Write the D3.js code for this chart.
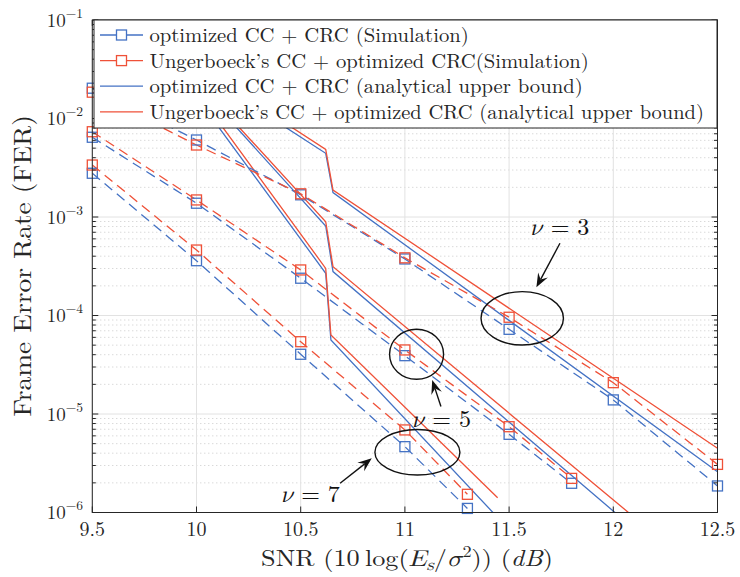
<!DOCTYPE html>
<html><head><meta charset="utf-8">
<script src="https://cdn.jsdelivr.net/npm/d3@7"></script>
<style>body{margin:0;background:#fff}</style>
</head><body><svg id="c" width="740" height="577" xmlns="http://www.w3.org/2000/svg"></svg>
<script>
// ---------- data ----------
const xTicks = [9.5, 10, 10.5, 11, 11.5, 12, 12.5];
const xTickLabels = ["9.5", "10", "10.5", "11", "11.5", "12", "12.5"];
const yTicks = [1e-6, 1e-5, 1e-4, 1e-3, 1e-2, 1e-1];
const yTickExps = ["\u22126", "\u22125", "\u22124", "\u22123", "\u22122", "\u22121"];

// simulations (dashed, square markers)
const snrNu3 = [9.5, 10, 10.5, 11, 11.5, 12, 12.5];
const simOptNu3 = [2.03e-2, 6.05e-3, 1.68e-3, 3.75e-4, 7.24e-5, 1.39e-5, 1.86e-6];
const simUngNu3 = [1.85e-2, 5.38e-3, 1.72e-3, 3.85e-4, 9.6e-5, 2.08e-5, 3.08e-6];

const snrNu5 = [9.5, 10, 10.5, 11, 11.5, 11.8];
const simOptNu5 = [6.45e-3, 1.38e-3, 2.39e-4, 3.91e-5, 6.22e-6, 1.98e-6];
const simUngNu5 = [7.34e-3, 1.49e-3, 2.9e-4, 4.47e-5, 7.43e-6, 2.22e-6];

const snrNu7 = [9.5, 10, 10.5, 11, 11.3];
const simOptNu7 = [2.78e-3, 3.6e-4, 4.04e-5, 4.66e-6, 1.10e-6];
const simUngNu7 = [3.37e-3, 4.62e-4, 5.42e-5, 6.89e-6, 1.53e-6];

// analytical upper bounds (solid)
const snrBoundNu3 = [9.5, 10.62, 10.655, 12.5];
const boundOptNu3 = [0.152, 4.43e-3, 1.77e-3, 2.59e-6];
const boundUngNu3 = [0.169, 4.86e-3, 1.88e-3, 4.49e-6];

const snrBoundNu5 = [9.5, 10.62, 10.655, 12.5];
const boundOptNu5 = [0.333, 8.11e-4, 2.79e-4, 1.29e-7];
const boundUngNu5 = [0.343, 8.96e-4, 3.13e-4, 1.77e-7];

const snrBoundNu7 = [9.5, 10.62, 10.645, 11.445];
const boundOptNu7 = [0.46, 2.68e-4, 5.64e-5, 8.9e-7];
const boundUngNu7 = [0.53, 3.01e-4, 6.34e-5, 1.41e-6];

const legendLabels = [
  "optimized CC + CRC (Simulation)",
  "Ungerboeck\u2019s CC + optimized CRC(Simulation)",
  "optimized CC + CRC (analytical upper bound)",
  "Ungerboeck\u2019s CC + optimized CRC (analytical upper bound)"
];

// annotations (data coordinates)
const nuLabels = ["3", "5", "7"];
const ellipseCenters = [[11.563, 9.37e-5], [11.056, 4.04e-5], [11.06, 4.09e-6]];
const arrowTails = [[11.744, 5.41e-4], [11.173, 1.19e-5], [10.689, 1.98e-6]];
const arrowHeads = [[11.631, 1.93e-4], [11.131, 2.21e-5], [10.841, 3.55e-6]];
const labelPos = [[11.744, 6.56e-4], [11.176, 7.43e-6], [10.547, 1.29e-6]];

// ---------- styles ----------
const BLUE = "#4472c4", RED = "#ef5138";
const FONT = "'Latin Modern Roman', 'Liberation Serif', serif";
const MATH = "'Latin Modern Math', 'Latin Modern Roman', serif";
const ellipseR = [[41.2, 26.7], [27, 25], [42.5, 22.8]];

const svg = d3.select("#c");
const L = 92.3, R = 717.5, T = 20, B = 512.5;
const x = d3.scaleLinear().domain([9.5, 12.5]).range([L, R]);
const y = d3.scaleLog().domain([1e-6, 1e-1]).range([B, T]);

svg.append("rect").attr("width", 740).attr("height", 577).attr("fill", "#fff");
svg.append("defs").append("clipPath").attr("id", "clip")
  .append("rect").attr("x", L).attr("y", T).attr("width", R - L).attr("height", B - T);

// ---------- grid ----------
const grid = svg.append("g");
const minorVals = [];
for (let e = -6; e <= -2; e++) for (let k = 2; k <= 9; k++) minorVals.push(k * Math.pow(10, e));
grid.selectAll(".mg").data(minorVals).enter().append("line")
  .attr("x1", L).attr("x2", R).attr("y1", d => y(d)).attr("y2", d => y(d))
  .attr("stroke", "#c4c4c4").attr("stroke-width", 0.9).attr("stroke-dasharray", "1,3");
grid.selectAll(".gy").data(yTicks).enter().append("line")
  .attr("x1", L).attr("x2", R).attr("y1", d => y(d)).attr("y2", d => y(d))
  .attr("stroke", "#e2e2e2").attr("stroke-width", 1);
grid.selectAll(".gx").data(xTicks).enter().append("line")
  .attr("y1", T).attr("y2", B).attr("x1", d => x(d)).attr("x2", d => x(d))
  .attr("stroke", "#e2e2e2").attr("stroke-width", 1);

// ---------- series ----------
const sims = [
  [snrNu3, simOptNu3, BLUE], [snrNu3, simUngNu3, RED],
  [snrNu5, simOptNu5, BLUE], [snrNu5, simUngNu5, RED],
  [snrNu7, simOptNu7, BLUE], [snrNu7, simUngNu7, RED]
];
const bounds = [
  [snrBoundNu3, boundOptNu3, BLUE], [snrBoundNu3, boundUngNu3, RED],
  [snrBoundNu5, boundOptNu5, BLUE], [snrBoundNu5, boundUngNu5, RED],
  [snrBoundNu7, boundOptNu7, BLUE], [snrBoundNu7, boundUngNu7, RED]
];
const line = d3.line().x(d => x(d[0])).y(d => y(d[1]));
const lines = svg.append("g").attr("clip-path", "url(#clip)");
bounds.forEach(([s, v, c]) => {
  lines.append("path").datum(s.map((d, i) => [d, v[i]])).attr("d", line)
    .attr("fill", "none").attr("stroke", c).attr("stroke-width", 1.3);
});
sims.forEach(([s, v, c]) => {
  lines.append("path").datum(s.map((d, i) => [d, v[i]])).attr("d", line)
    .attr("fill", "none").attr("stroke", c).attr("stroke-width", 1.3)
    .attr("stroke-dasharray", "10,6");
});
const marks = svg.append("g");
sims.forEach(([s, v, c]) => {
  marks.selectAll(null).data(s.map((d, i) => [d, v[i]])).enter().append("rect")
    .attr("x", d => x(d[0]) - 5).attr("y", d => y(d[1]) - 5)
    .attr("width", 10).attr("height", 10)
    .attr("fill", "none").attr("stroke", c).attr("stroke-width", 1.3);
});

// ---------- annotations ----------
const ann = svg.append("g");
ellipseCenters.forEach((cpt, i) => {
  ann.append("ellipse").attr("cx", x(cpt[0])).attr("cy", y(cpt[1]))
    .attr("rx", ellipseR[i][0]).attr("ry", ellipseR[i][1])
    .attr("fill", "none").attr("stroke", "#111").attr("stroke-width", 1.4);
  const x1 = x(arrowTails[i][0]), y1 = y(arrowTails[i][1]);
  const x2 = x(arrowHeads[i][0]), y2 = y(arrowHeads[i][1]);
  const ang = Math.atan2(y2 - y1, x2 - x1);
  const len = 14, hw = 5.5, notch = 9;
  const bx = x2 - len * Math.cos(ang), by = y2 - len * Math.sin(ang);
  const nx = x2 - notch * Math.cos(ang), ny = y2 - notch * Math.sin(ang);
  ann.append("line").attr("x1", x1).attr("y1", y1).attr("x2", nx).attr("y2", ny)
    .attr("stroke", "#111").attr("stroke-width", 1.4);
  const pts = [[x2, y2],
    [bx + hw * Math.sin(ang), by - hw * Math.cos(ang)],
    [nx, ny],
    [bx - hw * Math.sin(ang), by + hw * Math.cos(ang)]];
  ann.append("polygon").attr("points", pts.map(p => p.join(",")).join(" ")).attr("fill", "#111");
  const t = ann.append("text").attr("x", x(labelPos[i][0])).attr("y", y(labelPos[i][1]))
    .attr("text-anchor", "middle").attr("font-family", FONT).attr("font-size", 24).attr("fill", "#111");
  t.append("tspan").attr("font-family", MATH).attr("font-style", "italic").text("\u03bd");
  t.append("tspan").text(" = " + nuLabels[i]);
});

// ---------- axes ----------
const ax = svg.append("g");
ax.append("rect").attr("x", L).attr("y", T).attr("width", R - L).attr("height", B - T)
  .attr("fill", "none").attr("stroke", "#262626").attr("stroke-width", 1);
const tk = (x1, y1, x2, y2) => ax.append("line").attr("x1", x1).attr("y1", y1).attr("x2", x2).attr("y2", y2)
  .attr("stroke", "#262626").attr("stroke-width", 1);
xTicks.forEach(v => { tk(x(v), B, x(v), B - 6); tk(x(v), T, x(v), T + 6); });
yTicks.forEach(v => { tk(L, y(v), L + 6, y(v)); tk(R, y(v), R - 6, y(v)); });
minorVals.forEach(v => { tk(L, y(v), L + 3.5, y(v)); tk(R, y(v), R - 3.5, y(v)); });

const xl = svg.append("g").attr("font-family", FONT).attr("font-size", 20).attr("fill", "#262626");
xTicks.forEach((v, i) => {
  xl.append("text").attr("x", x(v)).attr("y", B + 23).attr("text-anchor", "middle").text(xTickLabels[i]);
});
yTicks.forEach((v, i) => {
  const t = xl.append("text").attr("x", 83).attr("y", y(v) + 6.5).attr("text-anchor", "end").attr("font-size", 19);
  t.append("tspan").text("10");
  t.append("tspan").attr("dy", -9).attr("font-size", 13.5).text(yTickExps[i]);
});

function fitWidth(sel, w, cx) {
  const bw = sel.node().getBBox().width;
  const s = w / bw;
  sel.attr("transform", `translate(${cx},0) scale(${s},1) translate(${-cx},0)`);
}

// x title
const xt = svg.append("text").attr("x", 407).attr("y", 566).attr("text-anchor", "middle")
  .attr("font-family", FONT).attr("font-size", 23).attr("fill", "#262626");
xt.append("tspan").text("SNR (10\u2009log(");
xt.append("tspan").attr("font-family", MATH).attr("font-style", "italic").text("E");
xt.append("tspan").attr("font-family", MATH).attr("font-style", "italic").attr("font-size", 16).attr("dy", 4).text("s");
xt.append("tspan").attr("dy", -4).text("/");
xt.append("tspan").attr("font-family", MATH).attr("font-style", "italic").text("\u03c3");
xt.append("tspan").attr("font-size", 16).attr("dy", -9).text("2");
xt.append("tspan").attr("dy", 9).text(")) (");
xt.append("tspan").attr("font-style", "italic").text("dB");
xt.append("tspan").text(")");
fitWidth(xt, 292, 407);

// y title
const ytg = svg.append("g").attr("transform", "translate(31,266) rotate(-90)");
const yt = ytg.append("text").attr("x", 0).attr("y", 0).attr("text-anchor", "middle")
  .attr("font-family", FONT).attr("font-size", 25).attr("fill", "#262626").text("Frame Error Rate (FER)");
fitWidth(yt, 302, 0);

// ---------- legend ----------
const lg = svg.append("g");
lg.append("rect").attr("x", 94).attr("y", 20).attr("width", 623).attr("height", 108)
  .attr("fill", "#fff").attr("stroke", "#262626").attr("stroke-width", 1);
const legendColors = [BLUE, RED, BLUE, RED];
const legendMarker = [true, true, false, false];
const legendWidths = [319.5, 439.4, 433.7, 555];
legendLabels.forEach((lab, i) => {
  const cy = 35 + i * 25.6;
  lg.append("line").attr("x1", 100).attr("x2", 143).attr("y1", cy).attr("y2", cy)
    .attr("stroke", legendColors[i]).attr("stroke-width", 1.3);
  if (legendMarker[i]) {
    lg.append("rect").attr("x", 121.5 - 5).attr("y", cy - 5).attr("width", 10).attr("height", 10)
      .attr("fill", "#fff").attr("stroke", legendColors[i]).attr("stroke-width", 1.3);
  }
  const t = lg.append("text").attr("x", 149.4).attr("y", cy + 7).attr("font-family", FONT)
    .attr("font-size", 20).attr("fill", "#262626").text(lab);
  fitWidth(t, legendWidths[i], 149.4);
});
</script>
</body></html>
